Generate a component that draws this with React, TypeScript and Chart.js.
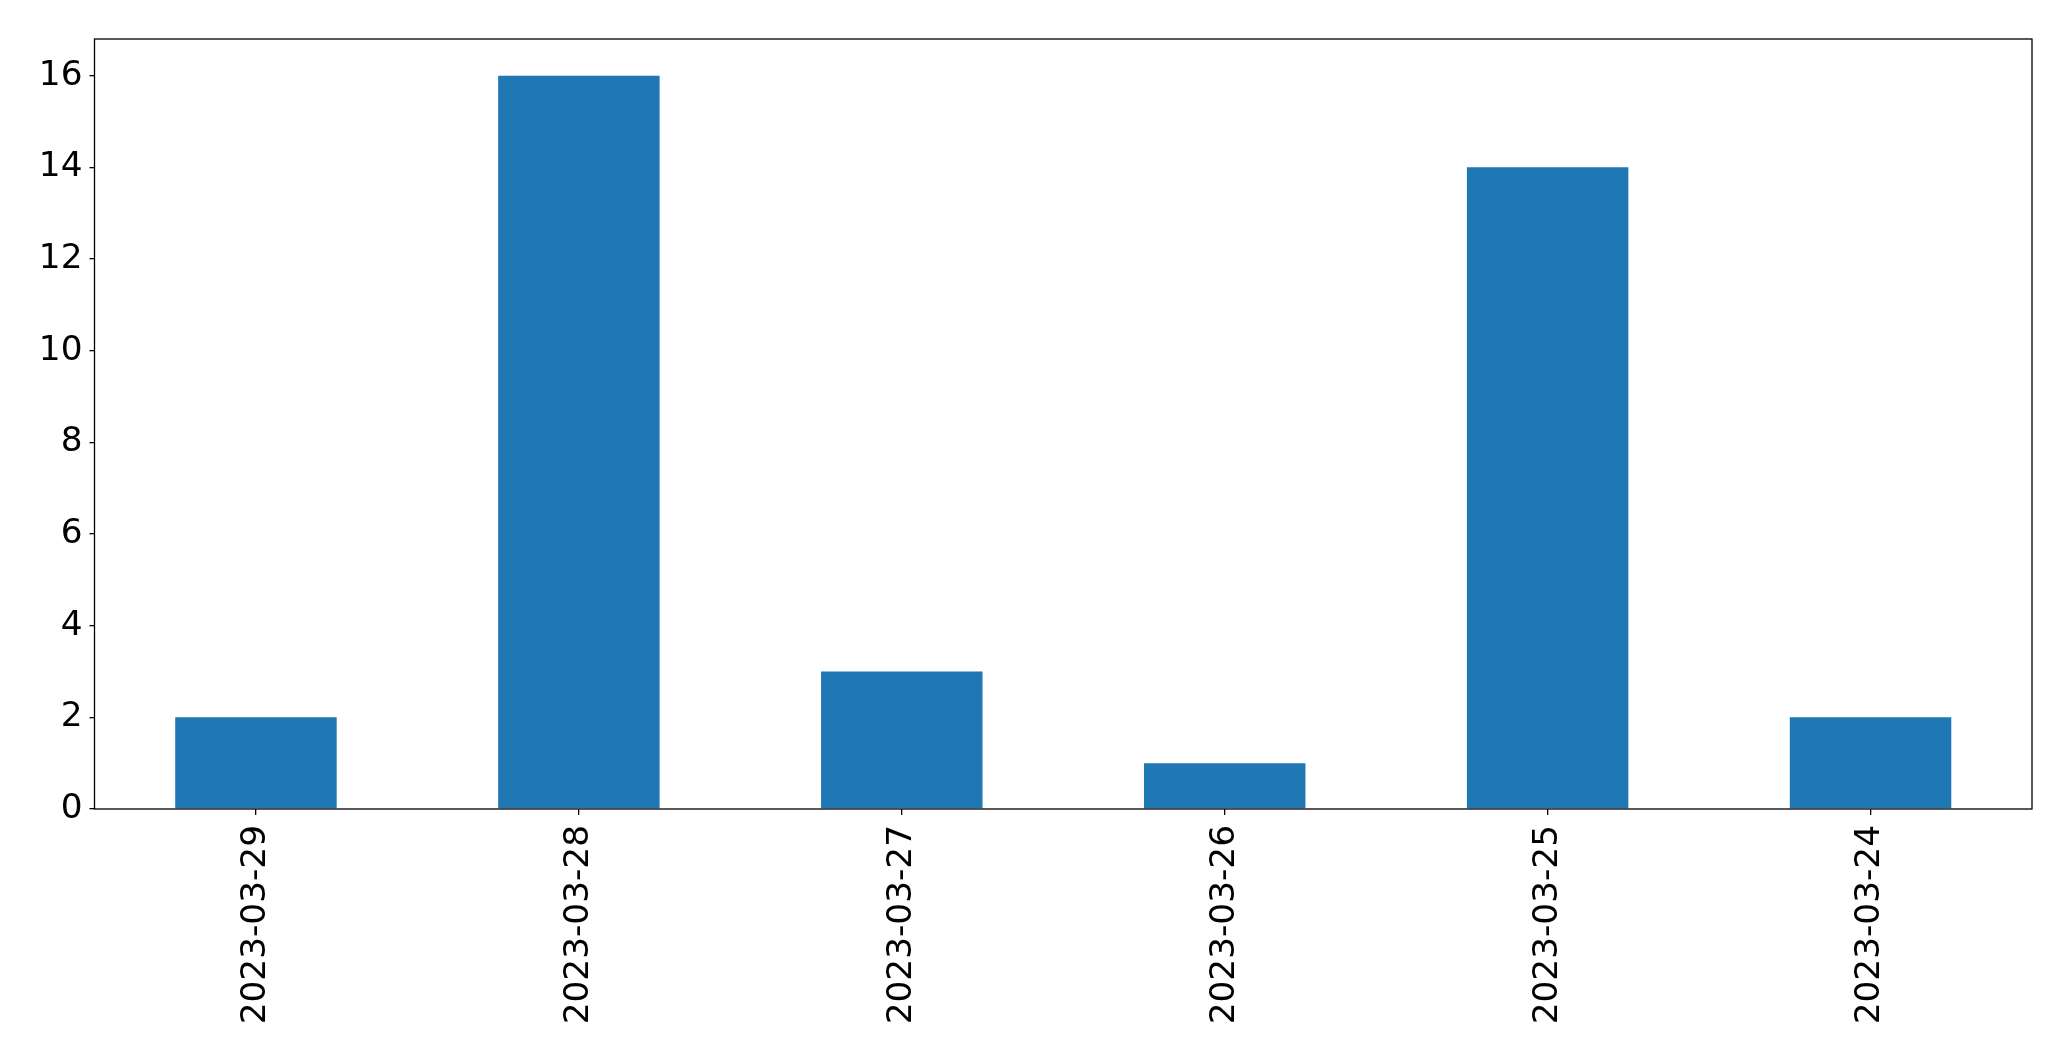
import React, { useEffect, useRef } from "react";
import { Chart, registerables } from "chart.js";

Chart.register(...registerables);

const categories: string[] = ["2023-03-29", "2023-03-28", "2023-03-27", "2023-03-26", "2023-03-25", "2023-03-24"];
const counts: number[] = [2, 16, 3, 1, 14, 2];
const yTickValues: number[] = [0, 2, 4, 6, 8, 10, 12, 14, 16];
const yMax = 16.8;

const framePlugin = {
  id: "frame",
  afterDraw(chart: any) {
    const { ctx, chartArea } = chart;
    ctx.save();
    ctx.strokeStyle = "#000";
    ctx.lineWidth = 1.3;
    ctx.strokeRect(chartArea.left, chartArea.top, chartArea.right - chartArea.left, chartArea.bottom - chartArea.top);
    ctx.restore();
  },
};

export default function App() {
  const ref = useRef<HTMLCanvasElement | null>(null);
  useEffect(() => {
    if (!ref.current) return;
    const font = { family: "'DejaVu Sans', sans-serif", size: 34.3 };
    const chart = new Chart(ref.current, {
      type: "bar",
      data: {
        labels: categories,
        datasets: [
          {
            data: counts,
            backgroundColor: "#1f77b4",
            borderWidth: 0,
            categoryPercentage: 1,
            barPercentage: 0.5,
          },
        ],
      },
      options: {
        responsive: false,
        animation: false,
        devicePixelRatio: 1,
        layout: { padding: { top: 39, right: 39, left: 0, bottom: 0 } },
        plugins: { legend: { display: false }, tooltip: { enabled: false } },
        scales: {
          x: {
            grid: { display: true, offset: false, drawOnChartArea: false, drawTicks: true, tickLength: 6, color: "#000", lineWidth: 1.3 },
            border: { display: false },
            ticks: { color: "#000", font, minRotation: 90, maxRotation: 90, padding: 10, autoSkip: false },
            afterFit: (s: any) => { s.height = 252; },
          },
          y: {
            min: 0,
            max: yMax,
            grid: { display: true, drawOnChartArea: false, drawTicks: true, tickLength: 5, color: "#000", lineWidth: 1.3 },
            border: { display: false },
            ticks: { color: "#000", font, padding: 7 },
            afterBuildTicks: (s: any) => { s.ticks = yTickValues.map((v) => ({ value: v })); },
            afterFit: (s: any) => { s.width = 94.5; },
          },
        },
      },
      plugins: [framePlugin],
    });
    return () => chart.destroy();
  }, []);
  return (
    <div style={{ position: "absolute", left: 0, top: 0, width: 2071, height: 1061, background: "#fff" }}>
      <canvas ref={ref} width={2071} height={1061} style={{ display: "block" }} />
    </div>
  );
}
